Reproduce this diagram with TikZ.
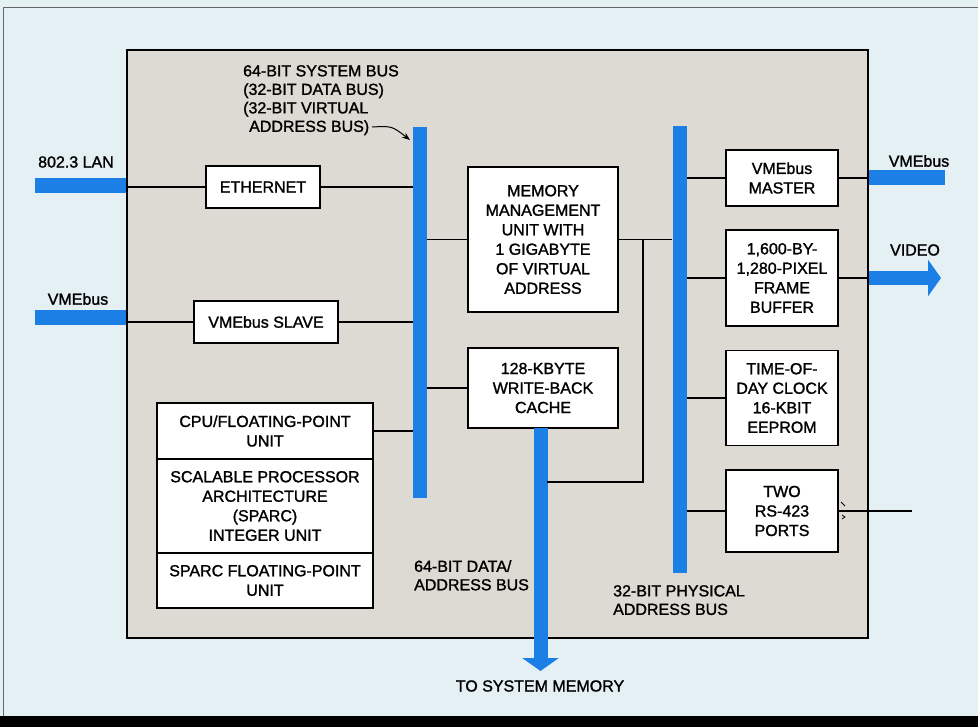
\documentclass[tikz,border=0pt]{standalone}
\usepackage{fontspec}
\setmainfont{Liberation Sans}[FakeBold=1.4]
\newfontfamily\medfont{Liberation Sans}[FakeBold=1.4]
\usetikzlibrary{arrows.meta}
\definecolor{bgblue}{HTML}{E4F0F4}
\definecolor{panelgray}{HTML}{DCDAD3}
\definecolor{busblue}{HTML}{1C7FE6}
\begin{document}
\begin{tikzpicture}[x=1pt,y=-1pt,
  box/.style={draw=black, line width=1.8pt, fill=white, align=center, inner sep=0pt,
    font=\medfont\fontsize{16}{19.5}\selectfont},
  lbl/.style={align=left, inner sep=0pt, font=\medfont\fontsize{16}{18.5}\selectfont},
  bus/.style={fill=busblue, draw=none, inner sep=0pt, minimum width=14pt},
  wire/.style={line width=1.2pt},
  fatbar/.style={busblue, line width=15pt},
  bigarrow/.style={busblue, line width=14pt, -{Triangle[width=36pt,length=13pt]}}]
\useasboundingbox (0,0) rectangle (978,727);
\fill[bgblue] (0,0) rectangle (978,727);
\draw[line width=1pt, black!60] (3,716) -- (3,8) -- (978,8);
\fill[black] (0,716) rectangle (978,727);

% panel
\node[draw=black, line width=2pt, fill=panelgray, minimum width=741pt, minimum height=588pt, inner sep=0pt] (panel) at (497.5,344) {};

% buses
\node[bus, minimum height=371pt] (sysbus) at (420,312.5) {};
\node[bus, minimum height=447pt] (physbus) at (679.5,349.5) {};

% boxes
\node[box, minimum width=114pt, minimum height=42pt] (eth) at (263,187) {ETHERNET};
\node[box, minimum width=144pt, minimum height=42pt] (slave) at (266,322) {VMEbus SLAVE};
\node[box, minimum width=150pt, minimum height=145pt] (mmu) at (543,239.5) {MEMORY\\MANAGEMENT\\UNIT WITH\\1 GIGABYTE\\OF VIRTUAL\\ADDRESS};
\node[box, minimum width=150pt, minimum height=80pt] (cache) at (543,388) {128-KBYTE\\WRITE-BACK\\CACHE};
\node[box, minimum width=216pt, minimum height=56pt] (cpu1) at (265,431) {CPU/FLOATING-POINT\\UNIT};
\node[box, minimum width=216pt, minimum height=94pt] (cpu2) at (265,506) {SCALABLE PROCESSOR\\ARCHITECTURE\\(SPARC)\\INTEGER UNIT};
\node[box, minimum width=216pt, minimum height=55pt] (cpu3) at (265,580.5) {SPARC FLOATING-POINT\\UNIT};
\node[box, minimum width=112pt, minimum height=56pt] (master) at (782,178) {VMEbus\\MASTER};
\node[box, minimum width=112pt, minimum height=96pt] (frame) at (782,278) {1,600-BY-\\1,280-PIXEL\\FRAME\\BUFFER};
\node[box, minimum width=112pt, minimum height=95pt] (clock) at (782,398) {TIME-OF-\\DAY CLOCK\\16-KBIT\\EEPROM};
\node[box, minimum width=112pt, minimum height=82pt] (rs) at (782,511) {TWO\\RS-423\\PORTS};

% labels
\node[lbl, anchor=north west] (sblbl) at (243,65) {64-BIT SYSTEM BUS\\(32-BIT DATA BUS)\\(32-BIT VIRTUAL\\\hspace*{6pt}ADDRESS BUS)};
\node[lbl] (lanlbl) at (76,162) {802.3 LAN};
\node[lbl] (vmelbl) at (78,299) {VMEbus};
\node[lbl] (vmerlbl) at (919,161) {VMEbus};
\node[lbl] (vidlbl) at (915,250) {VIDEO};
\node[lbl, anchor=north west] (dlbl) at (414,560) {64-BIT DATA/\\ADDRESS BUS};
\node[lbl, anchor=north west] (plbl) at (613,585) {32-BIT PHYSICAL\\ADDRESS BUS};
\node[lbl] (mlbl) at (540,686) {TO SYSTEM MEMORY};

% coordinates
\coordinate (lanL) at (35,186);
\coordinate (vmeL) at (35,318);
\coordinate (sbfrom) at (372,127);
\coordinate (sbtip) at (410,140);
\coordinate (dbtop) at (540.5,428);
\coordinate (memtip) at (540.5,671);
\coordinate (tap) at (643,482);
\coordinate (dbR) at (547,482);
\coordinate (vmeR) at (945,178);
\coordinate (vidtip) at (941,278);
\coordinate (rsend) at (912,511);

% left external buses
\draw[fatbar] (lanL) -- (lanL -| panel.west);
\draw[fatbar] (vmeL) -- (vmeL -| panel.west);
\draw[wire] (panel.west |- eth.west) -- (eth.west);
\draw[wire] (panel.west |- slave.west) -- (slave.west);

% to system bus
\draw[wire] (eth.east) -- (eth.east -| sysbus.west);
\draw[wire] (slave.east) -- (slave.east -| sysbus.west);
\draw[wire] (cpu1.east) -- (cpu1.east -| sysbus.west);
\draw[wire] (sysbus.east |- mmu.west) -- (mmu.west);
\draw[wire] (sysbus.east |- cache.west) -- (cache.west);

% system bus label arrow
\draw[wire, line width=1pt, -{Stealth[length=8pt,width=6pt]}] (sbfrom) .. controls (392,126) .. (sbtip);

% data bus
\draw[bigarrow] (dbtop) -- (memtip);

% MMU to physical bus and data bus
\draw[wire] (mmu.east) -- (mmu.east -| physbus.west);
\draw[wire] (tap |- mmu.east) -- (tap) -- (dbR);

% physical bus to right boxes
\draw[wire] (physbus.east |- master.west) -- (master.west);
\draw[wire] (physbus.east |- frame.west) -- (frame.west);
\draw[wire] (physbus.east |- clock.west) -- (clock.west);
\draw[wire] (physbus.east |- rs.west) -- (rs.west);

% right external
\draw[wire] (master.east) -- (master.east -| panel.east);
\draw[fatbar] (master.east -| panel.east) -- (vmeR);
\draw[wire] (frame.east) -- (frame.east -| panel.east);
\draw[bigarrow] (frame.east -| panel.east) -- (vidtip);
\draw[wire] (rs.east) -- (rsend);
\draw[line width=0.8pt] (841,502) -- (845,506);
\draw[line width=0.8pt] (842,515) -- (845,517) -- (842,519);
\end{tikzpicture}
\end{document}
